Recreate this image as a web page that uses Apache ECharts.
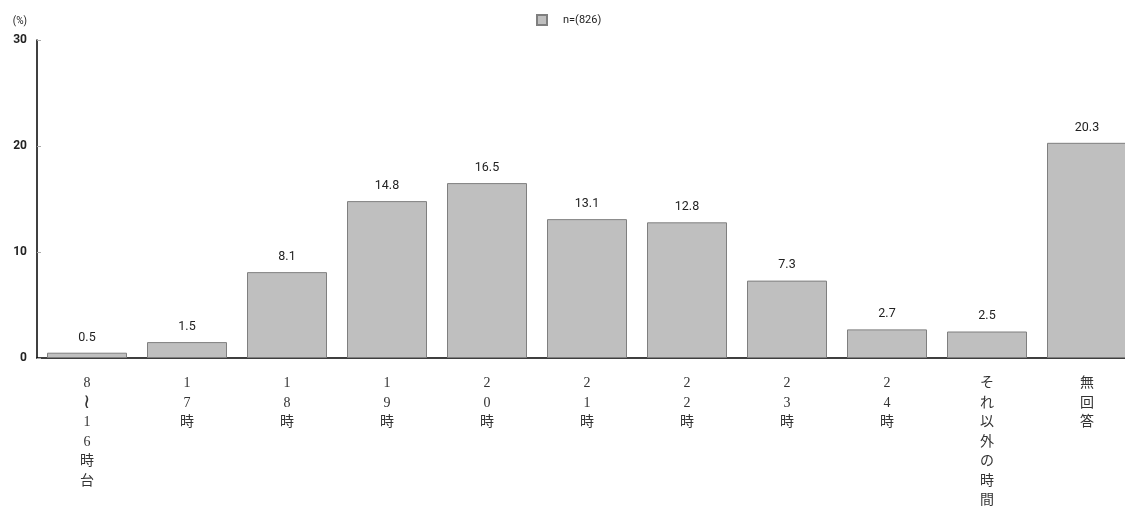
<!DOCTYPE html>
<html>
<head>
<meta charset="utf-8">
<script src="https://cdn.jsdelivr.net/npm/echarts@6/dist/echarts.min.js"></script>
<style>
html,body{margin:0;padding:0;background:#fff;}
#chart{width:1125px;height:513px;}
</style>
</head>
<body>
<div id="chart"></div>
<script>
// Time-of-day categories (written one character per line under each bar)
const categories = ['8≀16時台', '17時', '18時', '19時', '20時', '21時', '22時', '23時', '24時', 'それ以外の時間', '無回答'];
// Share of respondents (%)
const values = [0.5, 1.5, 8.1, 14.8, 16.5, 13.1, 12.8, 7.3, 2.7, 2.5, 20.3];
const seriesName = 'n=(826)';
const yTicks = [0, 10, 20, 30];

const chart = echarts.init(document.getElementById('chart'));
chart.setOption({
  animation: false,
  backgroundColor: '#fff',
  textStyle: { fontFamily: 'Roboto, "Noto Sans CJK JP", sans-serif' },
  legend: {
    top: 9,
    left: 531,
    itemWidth: 10,
    itemHeight: 10,
    textStyle: { fontSize: 11, color: '#222', padding: [0, 0, 0, 11] },
    data: [{ name: seriesName, icon: 'rect' }]
  },
  // the plot runs a little past the right edge, so the last bar is cut off there
  grid: { left: 37, width: 1100, top: 40, bottom: 155, containLabel: false, outerBoundsMode: 'none' },
  xAxis: {
    type: 'category',
    data: categories,
    axisLine: { lineStyle: { color: '#000', width: 1.5 } },
    axisTick: { inside: true, length: 5, lineStyle: { color: '#aaa' } },
    axisLabel: {
      margin: 16,
      interval: 0,
      fontFamily: '"Liberation Serif", "DejaVu Serif", "Noto Sans CJK JP", serif',
      fontSize: 14,
      lineHeight: 19.5,
      color: '#333',
      // one character per line; the wave dash is drawn a bit larger
      formatter: v => Array.from(v).map(c => c === '≀' ? '{w|≀}' : c).join('\n'),
      rich: {
        w: { fontSize: 20, lineHeight: 19.5, color: '#333', fontFamily: '"DejaVu Serif", serif' }
      }
    }
  },
  yAxis: {
    type: 'value',
    min: 0,
    max: 30,
    interval: 10,
    name: '(%)',
    nameLocation: 'end',
    nameGap: 14,
    nameTextStyle: { fontSize: 10, color: '#222', align: 'right', padding: [0, 10, 0, 0] },
    axisLine: { show: true, lineStyle: { color: '#000', width: 1.5 } },
    axisTick: { show: true, inside: true, length: 4, lineStyle: { color: '#aaa' } },
    splitLine: { show: false },
    axisLabel: {
      margin: 10,
      fontSize: 12,
      fontWeight: 'bold',
      color: '#222',
      formatter: v => yTicks.includes(v) ? String(v) : ''
    }
  },
  series: [{
    name: seriesName,
    type: 'bar',
    data: values,
    barCategoryGap: '20%',
    itemStyle: { color: '#bfbfbf', borderColor: '#7f7f7f', borderWidth: 1 },
    label: {
      show: true,
      position: 'top',
      distance: 9,
      fontSize: 12.5,
      color: '#222',
      formatter: p => p.value.toFixed(1)
    }
  }]
});
</script>
</body>
</html>
